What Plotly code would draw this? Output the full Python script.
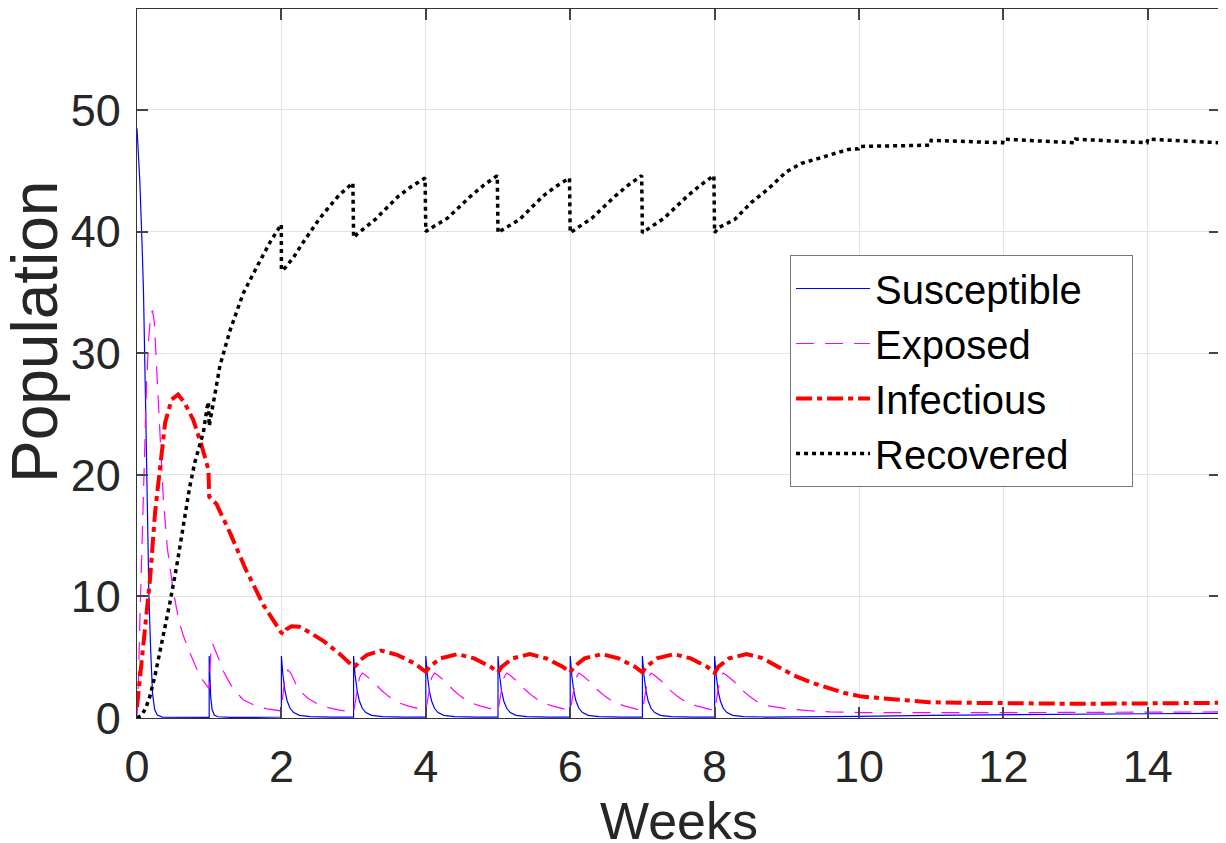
import plotly.graph_objects as go

# Susceptible
s_t = [0, 0.04, 0.07, 0.09, 0.12, 0.145, 0.165, 0.19, 0.215, 0.245, 0.28, 0.35, 0.6, 1.0,
       1.0, 1.01, 1.02, 1.04, 1.07, 1.12, 1.3, 1.6, 2.0,
       2.0, 2.02, 2.05, 2.08, 2.12, 2.17, 2.25, 2.4, 2.7, 3.0,
       3.0, 3.02, 3.05, 3.08, 3.12, 3.17, 3.25, 3.4, 3.7, 4.0,
       4.0, 4.02, 4.05, 4.08, 4.12, 4.17, 4.25, 4.4, 4.7, 5.0,
       5.0, 5.02, 5.05, 5.08, 5.12, 5.17, 5.25, 5.4, 5.7, 6.0,
       6.0, 6.02, 6.05, 6.08, 6.12, 6.17, 6.25, 6.4, 6.7, 7.0,
       7.0, 7.02, 7.05, 7.08, 7.12, 7.17, 7.25, 7.4, 7.7, 8.0,
       8.0, 8.02, 8.05, 8.08, 8.12, 8.17, 8.25, 8.4, 8.7, 9.0,
       10, 11, 12, 13, 14, 15]
s_v = [48.5, 44, 39, 35, 25.5, 15, 10, 5.5, 2, 0.7, 0.25, 0.08, 0.05, 0.05,
       5.1, 3.0, 1.8, 0.7, 0.25, 0.1, 0.05, 0.05, 0.08,
       5.1, 3.6, 2.2, 1.4, 0.8, 0.45, 0.22, 0.12, 0.08, 0.08,
       5.1, 3.6, 2.2, 1.4, 0.8, 0.45, 0.22, 0.12, 0.08, 0.08,
       5.1, 3.6, 2.2, 1.4, 0.8, 0.45, 0.22, 0.12, 0.08, 0.08,
       5.1, 3.6, 2.2, 1.4, 0.8, 0.45, 0.22, 0.12, 0.08, 0.08,
       5.1, 3.6, 2.2, 1.4, 0.8, 0.45, 0.22, 0.12, 0.08, 0.08,
       5.1, 3.6, 2.2, 1.4, 0.8, 0.45, 0.22, 0.12, 0.08, 0.08,
       5.1, 3.6, 2.2, 1.4, 0.8, 0.45, 0.22, 0.12, 0.08, 0.08,
       0.14, 0.22, 0.28, 0.32, 0.35, 0.38]

# Exposed
e_t = [0, 0.02, 0.04, 0.07, 0.1, 0.13, 0.16, 0.19, 0.215, 0.24, 0.27, 0.32, 0.365, 0.42,
       0.5, 0.58, 0.64, 0.73, 0.83, 0.9, 1.0,
       1.015, 1.03, 1.045, 1.07, 1.13, 1.2, 1.31, 1.47, 1.66, 1.8, 2.0,
       2.03, 2.06, 2.09, 2.13, 2.2, 2.28, 2.37, 2.5, 2.65, 2.8, 3.0,
       3.04, 3.08, 3.12, 3.17, 3.27, 3.38, 3.48, 3.6, 3.75, 3.88, 4.0,
       4.04, 4.08, 4.12, 4.17, 4.27, 4.38, 4.48, 4.6, 4.75, 4.88, 5.0,
       5.04, 5.08, 5.12, 5.17, 5.27, 5.38, 5.48, 5.6, 5.75, 5.88, 6.0,
       6.04, 6.08, 6.12, 6.17, 6.27, 6.38, 6.48, 6.6, 6.75, 6.88, 7.0,
       7.04, 7.08, 7.12, 7.17, 7.27, 7.38, 7.48, 7.6, 7.75, 7.88, 8.0,
       8.04, 8.08, 8.12, 8.17, 8.27, 8.38, 8.48, 8.6, 8.75, 8.88, 9.0,
       9.3, 9.6, 10, 11, 12, 13, 14, 15]
e_v = [0, 3, 8, 15, 21.5, 27, 31, 33.2, 33.5, 32.5, 29, 23.5, 18, 14,
       10.5, 8, 6.8, 5.4, 4.0, 3.2, 2.4,
       4.5, 5.9, 6.15, 5.8, 4.9, 3.8, 2.6, 1.5, 0.95, 0.75, 0.58,
       2.4, 3.6, 3.95, 3.7, 2.8, 2.1, 1.6, 1.15, 0.85, 0.65, 0.5,
       2.0, 3.3, 3.7, 3.5, 3.0, 2.3, 1.8, 1.3, 1.0, 0.8, 0.6,
       2.0, 3.3, 3.7, 3.5, 3.0, 2.3, 1.8, 1.3, 1.0, 0.8, 0.6,
       2.0, 3.3, 3.7, 3.5, 3.0, 2.3, 1.8, 1.3, 1.0, 0.8, 0.6,
       2.0, 3.3, 3.7, 3.5, 3.0, 2.3, 1.8, 1.3, 1.0, 0.8, 0.6,
       2.0, 3.3, 3.7, 3.5, 3.0, 2.3, 1.8, 1.3, 1.0, 0.8, 0.6,
       2.0, 3.3, 3.7, 3.5, 3.0, 2.3, 1.8, 1.3, 1.0, 0.85, 0.75,
       0.6, 0.5, 0.45, 0.42, 0.44, 0.46, 0.48, 0.5]

# Infectious
i_t = [0, 0.04, 0.09, 0.14, 0.18, 0.25, 0.32, 0.39, 0.48, 0.57, 0.66, 0.78, 0.9, 0.99,
       1.0, 1.1, 1.29, 1.5, 1.75, 1.9, 2.0,
       2.03, 2.07, 2.14, 2.25, 2.4, 2.59, 2.82, 3.0,
       3.03, 3.1, 3.19, 3.375, 3.6, 3.84, 4.0,
       4.05, 4.2, 4.44, 4.67, 4.9, 5.0,
       5.05, 5.2, 5.44, 5.67, 5.9, 6.0,
       6.05, 6.2, 6.44, 6.67, 6.9, 7.0,
       7.05, 7.2, 7.44, 7.67, 7.9, 8.0,
       8.05, 8.2, 8.44, 8.65, 8.88, 9.1, 9.35, 9.6, 9.8, 10.04,
       10.5, 10.97, 11.5, 12, 12.5, 13, 14, 15]
i_v = [0.9, 3.1, 5.7, 8.5, 11.4, 16.9, 21, 24.3, 26.2, 26.6, 25.9, 24.5, 22.3, 20.4,
       18.2, 17.6, 15.2, 12.3, 9.3, 8.0, 7.0,
       6.9, 7.3, 7.55, 7.5, 7.0, 6.3, 5.2, 4.2,
       4.3, 4.8, 5.2, 5.55, 5.2, 4.5, 3.8,
       4.2, 4.9, 5.25, 4.9, 4.2, 3.75,
       4.2, 4.9, 5.25, 4.9, 4.2, 3.75,
       4.2, 4.9, 5.25, 4.9, 4.2, 3.75,
       4.2, 4.9, 5.25, 4.9, 4.2, 3.7,
       4.2, 4.9, 5.25, 4.95, 4.2, 3.5, 2.9, 2.4, 2.05, 1.76,
       1.5, 1.3, 1.25, 1.2, 1.2, 1.17, 1.2, 1.25]

# Recovered
r_t = [0, 0.06, 0.12, 0.18, 0.25, 0.31, 0.365, 0.45, 0.55, 0.64, 0.73, 0.8, 0.86, 0.92, 0.97, 0.99,
       1.0, 1.05, 1.15, 1.29, 1.47, 1.66, 1.85, 1.999,
       2.0, 2.05, 2.17, 2.3, 2.4, 2.52, 2.63, 2.8, 2.99,
       3.0, 3.05, 3.3, 3.62, 3.8, 3.99,
       4.0, 4.05, 4.3, 4.62, 4.8, 4.99,
       5.0, 5.05, 5.3, 5.62, 5.8, 5.99,
       6.0, 6.05, 6.3, 6.62, 6.8, 6.99,
       7.0, 7.05, 7.3, 7.62, 7.8, 7.99,
       8.0, 8.05, 8.28, 8.51, 8.74, 8.99, 9.2, 9.43, 9.66, 9.85, 9.99,
       10.0, 10.5, 10.99, 11.0, 11.99, 12.0, 12.99, 13.0, 13.99, 14.0, 15]
r_v = [0, 0.2, 0.8, 1.8, 3.5, 5.2, 6.6, 9.3, 12.5, 15.8, 19.0, 21.0, 22.2, 23.5, 25.5, 26.0,
       24.0, 25.8, 29.0, 31.9, 34.9, 37.1, 39.2, 40.6,
       36.8, 37.0, 37.9, 39.1, 40.0, 41.0, 41.8, 43.0, 44.0,
       39.5, 39.8, 41.0, 42.9, 43.7, 44.4,
       40.0, 40.2, 41.1, 42.9, 43.8, 44.6,
       39.9, 40.1, 41.0, 42.9, 43.7, 44.4,
       39.9, 40.1, 41.1, 42.9, 43.8, 44.6,
       39.9, 40.1, 41.1, 42.9, 43.8, 44.6,
       39.9, 40.3, 41.0, 42.4, 43.5, 44.9, 45.6, 46.0, 46.4, 46.75, 46.8,
       47.0, 47.05, 47.1, 47.5, 47.3, 47.6, 47.3, 47.6, 47.3, 47.6, 47.3]

x_ticks = [0, 2, 4, 6, 8, 10, 12, 14]
y_ticks = [0, 10, 20, 30, 40, 50]

fig = go.Figure()
fig.add_trace(go.Scatter(x=s_t, y=s_v, mode="lines", name="Susceptible\u00a0\u00a0\u00a0\u00a0",
                         line=dict(color="#0000ff", width=1.2)))
fig.add_trace(go.Scatter(x=e_t, y=e_v, mode="lines", name="Exposed",
                         line=dict(color="#ff00ff", width=1.2, dash="18px,11px")))
fig.add_trace(go.Scatter(x=i_t, y=i_v, mode="lines", name="Infectious",
                         line=dict(color="#ff0000", width=4, dash="16px,5px,5px,5px")))
fig.add_trace(go.Scatter(x=r_t, y=r_v, mode="lines", name="Recovered",
                         line=dict(color="#000000", width=3.5, dash="4px,4px")))

axis_style = dict(
    showline=True, mirror="allticks", linecolor="#333333", linewidth=1.2,
    ticks="inside", ticklen=11, tickwidth=1.5, tickcolor="#444444",
    showgrid=True, gridcolor="#e3e3e3", gridwidth=1, zeroline=False,
    automargin=False,
    tickfont=dict(family="Liberation Sans, Arial, sans-serif", size=45, color="#262626"),
)

# the page body adds an 8px offset, so the figure is a bit smaller than the window
fig.update_layout(
    width=1218, height=835,
    plot_bgcolor="white", paper_bgcolor="white",
    font=dict(family="Liberation Sans, Arial, sans-serif", color="#262626"),
    margin=dict(l=129, r=6, t=1, b=125),
    showlegend=True,
    legend=dict(
        x=0.603, y=0.653, xanchor="left", yanchor="top",
        bgcolor="white", bordercolor="#777777", borderwidth=1,
        font=dict(size=40, color="#000000"),
        itemwidth=74, tracegroupgap=0,
    ),
    annotations=[
        dict(text="Weeks", xref="paper", yref="paper", x=0.5, y=-(813 - 710) / 709,
             xanchor="center", yanchor="middle", showarrow=False,
             font=dict(size=52, color="#262626")),
        dict(text="Population", xref="paper", yref="paper", x=(27 - 129) / 1083,
             y=(710 - 324) / 709, xanchor="center", yanchor="middle", textangle=-90,
             showarrow=False, font=dict(size=64, color="#262626")),
    ],
)
fig.update_xaxes(axis_style, range=[0, 15], tickvals=x_ticks, ticklabelstandoff=9)
fig.update_yaxes(axis_style, range=[0, 58.3], tickvals=y_ticks, ticklabelstandoff=6)

fig.write_html("out.html")
